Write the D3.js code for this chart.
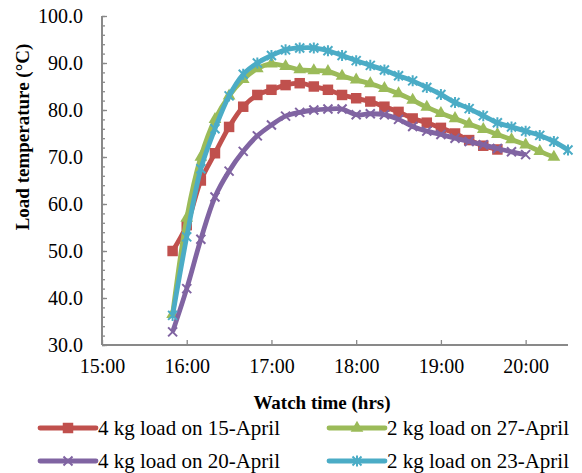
<!DOCTYPE html>
<html>
<head>
<meta charset="utf-8">
<script src="https://cdn.jsdelivr.net/npm/d3@7"></script>
<style>
    body { margin: 0; background: #fff; }
    #chart { width: 582px; height: 473px; }
</style>
</head>
<body>
<div id="chart"></div>
<script>
// readings every 10 minutes from 15:50
const times = ["15:50", "16:00", "16:10", "16:20", "16:30", "16:40", "16:50", "17:00", "17:10", "17:20",
    "17:30", "17:40", "17:50", "18:00", "18:10", "18:20", "18:30", "18:40", "18:50", "19:00",
    "19:10", "19:20", "19:30", "19:40", "19:50", "20:00", "20:10", "20:20", "20:30"];

const load4kg15Apr = [50.0, 55.5, 65.0, 70.8, 76.4, 80.7, 83.2, 84.3, 85.3, 85.7,
    85.0, 84.3, 83.2, 82.5, 81.8, 80.7, 79.6, 78.2, 77.3, 76.2,
    75.0, 73.6, 72.4, 71.6];
const load2kg27Apr = [36.5, 57.0, 70.0, 78.0, 83.0, 86.5, 88.8, 89.8, 89.3, 88.6,
    88.4, 88.2, 87.2, 86.4, 85.6, 84.6, 83.5, 82.1, 80.6, 79.3,
    78.2, 77.0, 75.9, 74.8, 73.7, 72.6, 71.2, 70.0];
const load4kg20Apr = [32.8, 42.0, 52.5, 61.5, 67.0, 71.2, 74.5, 76.8, 78.7, 79.5,
    80.0, 80.2, 80.2, 79.0, 79.2, 79.0, 78.0, 76.5, 75.5, 74.8,
    74.0, 73.3, 72.6, 71.8, 71.1, 70.5];
const load2kg23Apr = [36.3, 53.0, 67.5, 76.0, 83.0, 87.6, 90.0, 91.6, 92.8, 93.2,
    93.2, 92.6, 91.6, 90.5, 89.5, 88.5, 87.3, 86.2, 84.8, 83.3,
    81.6, 80.3, 78.8, 77.3, 76.4, 75.5, 74.6, 73.3, 71.5];

const seriesNames = ["4 kg load on 15-April", "2 kg load on 27-April", "4 kg load on 20-April", "2 kg load on 23-April"];
const seriesColors = ["#C0504D", "#9BBB59", "#8064A2", "#4BACC6"];
const seriesMarkers = ["square", "triangle", "cross", "star"];

const xTicks = ["15:00", "16:00", "17:00", "18:00", "19:00", "20:00"];
const xEnd = "20:30";
const yTicks = [30, 40, 50, 60, 70, 80, 90, 100];

const FONT = "Liberation Serif";

class LineVis {
    constructor(parentElement) {
        this.parentElement = parentElement;
        this.parseTime = d3.timeParse("%H:%M");
        this.initVis();
    }

    initVis() {
        const vis = this;

        vis.margin = { top: 16, right: 14, bottom: 128, left: 102 };
        vis.width = 582 - vis.margin.left - vis.margin.right;
        vis.height = 473 - vis.margin.top - vis.margin.bottom;

        vis.root = d3.select("#" + vis.parentElement)
            .append("svg")
            .attr("width", 582)
            .attr("height", 473);

        vis.svg = vis.root.append("g")
            .attr("transform", `translate(${vis.margin.left}, ${vis.margin.top})`);

        vis.x = d3.scaleTime()
            .domain([vis.parseTime(xTicks[0]), vis.parseTime(xEnd)])
            .range([0, vis.width]);
        vis.y = d3.scaleLinear()
            .domain([30, 100])
            .range([vis.height, 0]);

        vis.wrangleData();
    }

    wrangleData() {
        const vis = this;
        const all = [load4kg15Apr, load2kg27Apr, load4kg20Apr, load2kg23Apr];

        vis.series = all.map((vals, i) => ({
            name: seriesNames[i],
            color: seriesColors[i],
            marker: seriesMarkers[i],
            values: vals.map((v, j) => ({ time: vis.parseTime(times[j]), temp: v }))
        }));

        vis.updateVis();
    }

    markerPath(type) {
        if (type === "square") return d3.symbol(d3.symbolSquare, 110)();
        if (type === "triangle") return d3.symbol(d3.symbolTriangle, 70)();
        if (type === "cross") return "M-4.5,-4.5L4.5,4.5M-4.5,4.5L4.5,-4.5";
        return "M-4.5,-4.5L4.5,4.5M-4.5,4.5L4.5,-4.5M0,-5.5L0,5.5";
    }

    styleText(sel, size, weight) {
        sel.attr("font-family", FONT)
            .style("font-family", FONT)
            .style("font-size", size + "px")
            .style("font-weight", weight || "normal")
            .attr("fill", "#000");
    }

    updateVis() {
        const vis = this;
        const axisColor = "#898989";

        // y axis with minor ticks every 2 degrees
        const yAxis = vis.svg.append("g").attr("class", "axis axis--y");
        yAxis.call(d3.axisLeft(vis.y).tickValues(d3.range(30, 100.1, 2)).tickSize(-3).tickFormat(""));
        yAxis.selectAll(".tick line").attr("stroke", axisColor).attr("stroke-width", 1.3);
        yAxis.select(".domain").remove();

        const yMajor = vis.svg.append("g").attr("class", "axis axis--y");
        yMajor.call(d3.axisLeft(vis.y).tickValues(yTicks).tickSize(-5).tickPadding(19).tickFormat(d3.format(".1f")));
        yMajor.attr("font-family", FONT);
        yMajor.select(".domain").remove();
        yMajor.selectAll(".tick line").attr("stroke", axisColor).attr("stroke-width", 1.3);
        vis.styleText(yMajor.selectAll("text"), 20);

        const xAxis = vis.svg.append("g")
            .attr("class", "axis axis--x")
            .attr("transform", `translate(0, ${vis.height})`);
        xAxis.call(d3.axisBottom(vis.x)
            .tickValues(xTicks.map(t => vis.parseTime(t)))
            .tickSize(-5).tickPadding(14)
            .tickFormat(d3.timeFormat("%H:%M")));
        xAxis.attr("font-family", FONT);
        xAxis.select(".domain").remove();
        xAxis.selectAll(".tick line").attr("stroke", axisColor).attr("stroke-width", 1.3);
        vis.styleText(xAxis.selectAll("text"), 20);

        vis.svg.append("line")
            .attr("x1", 0).attr("x2", 0).attr("y1", 0).attr("y2", vis.height)
            .attr("stroke", axisColor).attr("stroke-width", 2);
        vis.svg.append("line")
            .attr("x1", 0).attr("x2", vis.width).attr("y1", vis.height).attr("y2", vis.height)
            .attr("stroke", axisColor).attr("stroke-width", 2);

        // axis titles
        vis.svg.append("text")
            .attr("transform", `translate(${-80}, ${121}) rotate(-90)`)
            .attr("text-anchor", "middle")
            .attr("dy", "0.35em")
            .text("Load temperature (\u00B0C)")
            .call(t => vis.styleText(t, 19, "bold"));

        vis.svg.append("text")
            .attr("x", 220)
            .attr("y", vis.height + 64)
            .attr("text-anchor", "middle")
            .text("Watch time (hrs)")
            .call(t => vis.styleText(t, 19, "bold"));

        // lines + markers
        const line = d3.line()
            .x(d => vis.x(d.time))
            .y(d => vis.y(d.temp))
            .curve(d3.curveCatmullRom);

        vis.series.forEach(s => {
            const g = vis.svg.append("g").attr("class", "series");
            g.append("path")
                .datum(s.values)
                .attr("d", line)
                .attr("fill", "none")
                .attr("stroke", s.color)
                .attr("stroke-width", 4.8)
                .attr("stroke-linejoin", "round");

            g.selectAll(".marker")
                .data(s.values)
                .enter()
                .append("path")
                .attr("class", "marker")
                .attr("transform", d => `translate(${vis.x(d.time)}, ${vis.y(d.temp)})`)
                .attr("d", vis.markerPath(s.marker))
                .attr("fill", s.color)
                .attr("stroke", s.color)
                .attr("stroke-width", s.marker === "cross" || s.marker === "star" ? 2 : 0);
        });

        // legend, two columns
        const legend = vis.root.append("g").attr("class", "legend");
        const colX = [40, 329];
        const rowY = [428, 461];
        vis.series.forEach((s, i) => {
            const lx = colX[i % 2];
            const ly = rowY[Math.floor(i / 2)];
            const item = legend.append("g").attr("transform", `translate(${lx}, ${ly})`);
            item.append("line")
                .attr("x1", 0).attr("x2", 56).attr("y1", 0).attr("y2", 0)
                .attr("stroke", s.color).attr("stroke-width", 4.8)
                .attr("stroke-linecap", "round");
            item.append("path")
                .attr("transform", "translate(28, 0)")
                .attr("d", vis.markerPath(s.marker))
                .attr("fill", s.color)
                .attr("stroke", s.color)
                .attr("stroke-width", s.marker === "cross" || s.marker === "star" ? 2 : 0);
            item.append("text")
                .attr("x", 58)
                .attr("dy", "0.35em")
                .text(s.name)
                .call(t => vis.styleText(t, 21));
        });
    }
}

new LineVis("chart");
</script>
</body>
</html>
